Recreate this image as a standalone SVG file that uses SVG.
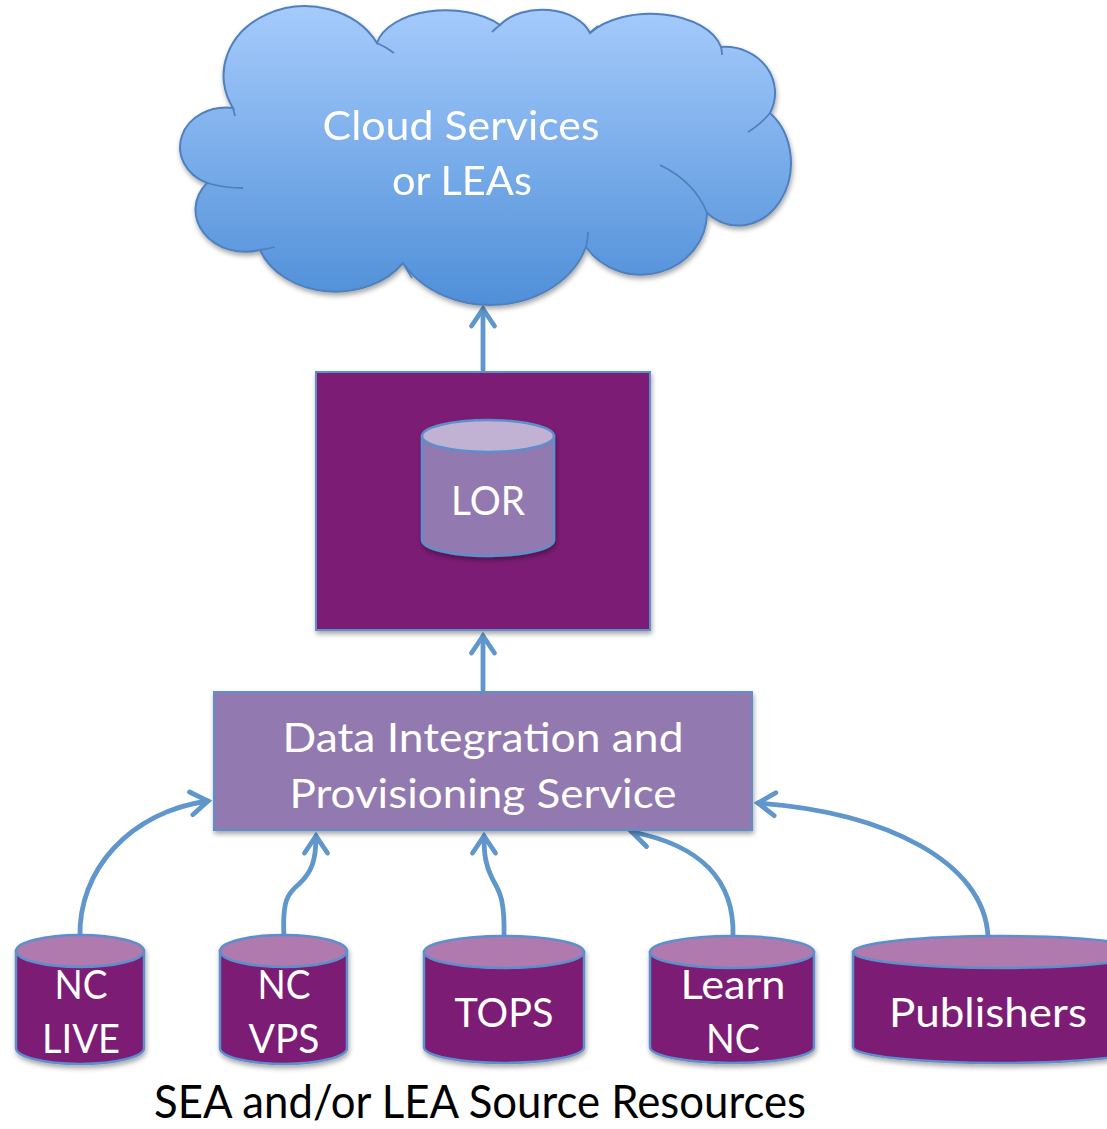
<svg xmlns="http://www.w3.org/2000/svg" width="1107" height="1129" viewBox="0 0 1107 1129">
<style>
.t{font-family:Lato,"Open Sans","Liberation Sans",sans-serif;font-size:41px;fill:#ffffff;text-anchor:middle}
.cap{font-family:Lato,"Open Sans","Liberation Sans",sans-serif;font-size:46px;fill:#000000}
.conn{fill:none;stroke:#5f96cc;stroke-width:4.8;stroke-linecap:round}
.box{stroke:#5b8fcc;stroke-width:2}
.cylbody{fill:#7b1a75;stroke:#5b8fcc;stroke-width:2.5}
.cyltop{fill:#b07aae;stroke:#5b8fcc;stroke-width:2.5}
.cloudline{fill:none;stroke:#4f80bd;stroke-width:1.8}
</style>
<defs>
<linearGradient id="cg" x1="0" y1="0" x2="0" y2="1">
<stop offset="0" stop-color="#a6cbfc"/>
<stop offset="1" stop-color="#4f8fd8"/>
</linearGradient>
<filter id="sh" x="-10%" y="-10%" width="125%" height="130%">
<feDropShadow dx="1" dy="3" stdDeviation="2.5" flood-color="#000" flood-opacity="0.35"/>
</filter>
<marker id="ah" markerUnits="userSpaceOnUse" markerWidth="30" markerHeight="30" orient="auto" overflow="visible">
<path d="M-17,-11.5 L0,0 L-17,11.5" fill="none" stroke="#5f96cc" stroke-width="4.8" stroke-linecap="round" stroke-linejoin="miter"/>
</marker>
</defs>
<rect width="1107" height="1129" fill="#ffffff"/>

<g id="connectors">
<path class="conn" d="M483,370 L483,309" marker-end="url(#ah)"/>
<path class="conn" d="M483,690 L483,636" marker-end="url(#ah)"/>
<path class="conn" d="M80,937 C78,870 130,812 208,801" marker-end="url(#ah)"/>
<path class="conn" d="M284,937 C282,900 288,893 299,884 C312,872 316,860 316,836" marker-end="url(#ah)"/>
<path class="conn" d="M504,937 C505,895 498,890 492,878 C486,866 484,856 484,836" marker-end="url(#ah)"/>
<path class="conn" d="M733,937 C735,880 700,845 632,832" marker-end="url(#ah)"/>
<path class="conn" d="M988,937 C985,862 885,812 758,803" marker-end="url(#ah)"/>
</g>

<g id="cloud" filter="url(#sh)">
<path fill="url(#cg)" stroke="#4f80bd" stroke-width="2" d="M233,108 A80,68 0 0 1 377,43 A70,40 0 0 1 500,25 A50,33 0 0 1 590,33 A72,42 0 0 1 721,47 A50,46 0 0 1 770,113 A52,62 0 0 1 707,213 A66,62 0 0 1 586,247 A100,82 0 0 1 403,263 A80,62 0 0 1 260,250 A50,42 0 0 1 207,183 A46,39.5 0 0 1 233,108 Z"/>
<path class="cloudline" d="M770,113 Q760,125 748,132"/>
<path class="cloudline" d="M660,165 Q695,182 707,213"/>
<path class="cloudline" d="M586,247 Q588,238 588,232"/>
<path class="cloudline" d="M403,263 Q407,270 412,278"/>
<path class="cloudline" d="M260,250 Q267,249 275,247"/>
<path class="cloudline" d="M207,183 Q224,188 243,188"/>
<path class="cloudline" d="M233,108 Q234,112 235,116"/>
<path class="cloudline" d="M377,43 Q386,47 394,53"/>
<path class="cloudline" d="M500,25 Q496,28 492,32"/>
<path class="cloudline" d="M590,33 Q594,29 598,26"/>
<path class="cloudline" d="M721,47 Q722,51 722,55"/>
<text class="t" x="461" y="140" textLength="277" lengthAdjust="spacingAndGlyphs">Cloud Services</text>
<text class="t" x="462" y="195" textLength="140" lengthAdjust="spacingAndGlyphs">or LEAs</text>
</g>

<g id="lor-box">
<rect class="box" x="316" y="372" width="334" height="258" fill="#7b1a75" filter="url(#sh)"/>
<g id="lor" filter="url(#sh)">
<path d="M422,436 V540 A66,16 0 0 0 554,540 V436 Z" fill="#9279b0" stroke="#5b8fcc" stroke-width="2.5"/>
<ellipse cx="488" cy="436" rx="66" ry="16" fill="#c1b2d4" stroke="#5b8fcc" stroke-width="2.5"/>
</g>
<text class="t" x="488" y="515" textLength="74" lengthAdjust="spacingAndGlyphs">LOR</text>
</g>

<g id="dips">
<rect class="box" x="214" y="692" width="538" height="138" fill="#9279b0" filter="url(#sh)"/>
<text class="t" x="483" y="752" textLength="401" lengthAdjust="spacingAndGlyphs">Data Integration and</text>
<text class="t" x="483" y="808" textLength="387" lengthAdjust="spacingAndGlyphs">Provisioning Service</text>
</g>

<g id="nc-live">
<g filter="url(#sh)">
<path class="cylbody" d="M16,951 V1048 A64,16 0 0 0 144,1048 V951 Z"/>
<ellipse class="cyltop" cx="80" cy="951" rx="64" ry="16"/>
</g>
<text class="t" x="81" y="999" textLength="53" lengthAdjust="spacingAndGlyphs">NC</text>
<text class="t" x="81" y="1053" textLength="78" lengthAdjust="spacingAndGlyphs">LIVE</text>
</g>

<g id="nc-vps">
<g filter="url(#sh)">
<path class="cylbody" d="M220,951 V1048 A63.5,16 0 0 0 347,1048 V951 Z"/>
<ellipse class="cyltop" cx="283.5" cy="951" rx="63.5" ry="16"/>
</g>
<text class="t" x="284" y="999" textLength="53" lengthAdjust="spacingAndGlyphs">NC</text>
<text class="t" x="284" y="1053" textLength="71" lengthAdjust="spacingAndGlyphs">VPS</text>
</g>

<g id="tops">
<g filter="url(#sh)">
<path class="cylbody" d="M424,952 V1047 A80,16 0 0 0 584,1047 V952 Z"/>
<ellipse class="cyltop" cx="504" cy="952" rx="80" ry="16"/>
</g>
<text class="t" x="504" y="1027" textLength="99" lengthAdjust="spacingAndGlyphs">TOPS</text>
</g>

<g id="learn-nc">
<g filter="url(#sh)">
<path class="cylbody" d="M650,952 V1047 A82,16 0 0 0 814,1047 V952 Z"/>
<ellipse class="cyltop" cx="732" cy="952" rx="82" ry="16"/>
</g>
<text class="t" x="733" y="999" textLength="105" lengthAdjust="spacingAndGlyphs">Learn</text>
<text class="t" x="733" y="1053" textLength="54" lengthAdjust="spacingAndGlyphs">NC</text>
</g>

<g id="publishers">
<g filter="url(#sh)">
<path class="cylbody" d="M853,952 V1047 A147,16 0 0 0 1147,1047 V952 Z"/>
<ellipse class="cyltop" cx="1000" cy="952" rx="147" ry="16"/>
</g>
<text class="t" x="988" y="1027" textLength="198" lengthAdjust="spacingAndGlyphs">Publishers</text>
</g>

<g id="caption">
<text class="cap" x="154" y="1118" textLength="652" lengthAdjust="spacingAndGlyphs">SEA and/or LEA Source Resources</text>
</g>
</svg>
